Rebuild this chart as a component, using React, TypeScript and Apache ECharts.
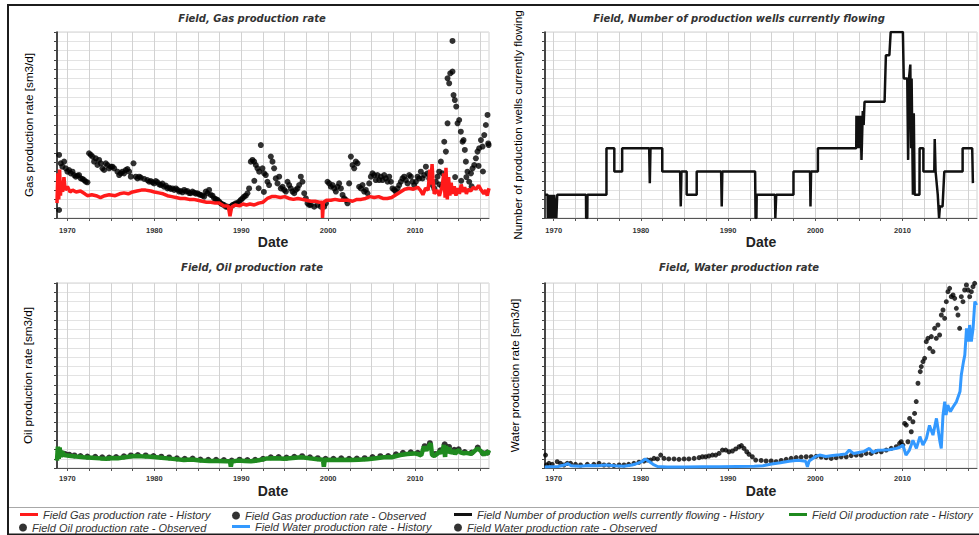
import React, { useEffect, useRef } from 'react';
import * as echarts from 'echarts';

// ---------- axis ticks / labels ----------
const xTickYears = [1970, 1972.5, 1975, 1977.5, 1980, 1982.5, 1985, 1987.5, 1990, 1992.5, 1995, 1997.5, 2000, 2002.5, 2005, 2007.5, 2010, 2012.5, 2015, 2017.5];
const xLabelYears = [1970, 1980, 1990, 2000, 2010];

// ---------- titles / names ----------
const panelTitles = ['Field, Gas production rate', 'Field, Number of production wells currently flowing', 'Field, Oil production rate', 'Field, Water production rate'];
const yNames = ['Gas production rate [sm3/d]', 'Number of production wells currently flowing', 'Oil production rate [sm3/d]', 'Water production rate [sm3/d]'];
const seriesNames = [
  'Field Gas production rate - History',
  'Field Gas production rate - Observed',
  'Field Number of production wells currently flowing - History',
  'Field Oil production rate - History',
  'Field Oil production rate - Observed',
  'Field Water production rate - History',
  'Field Water production rate - Observed',
];

// ---------- data (year, relative value) ----------
const gasHistory = [
  [1968.8, 8], [1968.9, 24], [1969.0, 10], [1969.1, 26], [1969.2, 12], [1969.3, 20], [1969.45, 14], [1969.6, 22], [1969.75, 15], [1970.0, 17], [1970.3, 14], [1970.6, 15], [1971.0, 14], [1971.5, 14.5], [1972.0, 13], [1972.3, 12], [1972.8, 12.5], [1973.3, 12], [1973.8, 11], [1974.3, 12], [1974.8, 12.5], [1975.5, 12], [1976.0, 13], [1976.5, 13.5], [1977.0, 13], [1977.5, 14], [1978.0, 14.5], [1978.5, 15], [1979.0, 15], [1979.6, 14.5], [1980.0, 14], [1980.5, 13.5], [1981.0, 13], [1981.5, 12], [1982.0, 11.5], [1982.5, 11], [1983.0, 10.5], [1983.5, 10.5], [1984.0, 10], [1984.5, 10], [1985.0, 9.5], [1985.5, 9], [1986.0, 8.5], [1986.5, 8.5], [1987.0, 8], [1987.5, 8], [1988.0, 6.5], [1988.5, 6.5], [1988.7, 1], [1988.9, 6], [1989.3, 7], [1989.8, 6.5], [1990.2, 7.5], [1990.6, 7], [1991.0, 7.5], [1991.5, 7], [1992.0, 8], [1992.5, 8.5], [1993.0, 10.5], [1993.5, 11.5], [1994.0, 11.5], [1994.5, 11], [1995.0, 11.5], [1995.5, 10.5], [1996.0, 10], [1996.5, 10.5], [1997.0, 10], [1997.5, 9.5], [1998.0, 9], [1998.5, 9], [1999.0, 8.5], [1999.3, 8.5], [1999.35, 0], [1999.45, 8.5], [1999.8, 9.5], [2000.3, 9.5], [2000.8, 10], [2001.3, 9.5], [2001.8, 9.5], [2002.3, 9.5], [2002.8, 9], [2003.3, 10], [2003.8, 10], [2004.3, 10.5], [2004.8, 11.5], [2005.3, 11], [2005.8, 11.5], [2006.3, 10.5], [2006.8, 10.5], [2007.3, 11], [2007.8, 12.5], [2008.3, 14], [2008.8, 15.5], [2009.3, 16], [2009.8, 15.5], [2010.3, 16.5], [2010.6, 15], [2010.9, 12.5], [2011.2, 16], [2011.5, 15], [2011.7, 26], [2011.8, 18], [2011.95, 29], [2012.05, 21], [2012.2, 13], [2012.5, 15], [2012.8, 12], [2013.1, 17], [2013.3, 24], [2013.45, 11], [2013.55, 27], [2013.7, 10], [2013.85, 22], [2014.0, 12], [2014.15, 19], [2014.3, 13], [2014.5, 17], [2014.7, 12], [2014.9, 16], [2015.1, 13], [2015.3, 18], [2015.5, 14], [2015.7, 16.5], [2015.9, 13], [2016.1, 15.5], [2016.4, 14.5], [2016.7, 16.5], [2017.0, 15.5], [2017.3, 17.5], [2017.6, 15], [2017.9, 13], [2018.1, 15], [2018.3, 12], [2018.5, 16],
];

const gasObserved = [
  [1969.04, 33.9], [1969.04, 4.3], [1969.23, 29.4], [1969.42, 27.6], [1969.62, 30.3], [1969.81, 26.7], [1970.0, 24.9], [1970.19, 25.8], [1970.38, 24.0], [1970.58, 24.9], [1970.77, 23.1], [1970.96, 22.2], [1971.15, 22.8], [1971.34, 23.1], [1971.53, 21.3], [1971.73, 21.0], [1971.92, 20.4], [1972.11, 19.5], [1972.3, 19.2],
  [1972.49, 34.8], [1972.69, 33.9], [1972.88, 33.0], [1973.07, 30.3], [1973.26, 32.1], [1973.45, 28.5], [1973.64, 31.2], [1973.84, 29.4], [1974.03, 26.7], [1974.22, 25.8], [1974.41, 29.4], [1974.6, 28.5], [1974.79, 26.7], [1974.99, 27.6], [1975.18, 27.6], [1975.37, 26.7], [1975.75, 24.9], [1975.95, 23.1], [1976.14, 24.0], [1976.33, 24.9], [1976.52, 24.0], [1976.71, 25.8], [1976.9, 26.3], [1977.1, 24.9], [1977.29, 22.2], [1977.6, 29.4], [1977.86, 22.2], [1978.06, 21.3], [1978.25, 22.2], [1978.44, 21.7], [1978.82, 21.0],
  [1979.2, 20.4], [1979.4, 19.5], [1979.59, 19.9], [1979.78, 19.2], [1979.97, 18.6], [1980.17, 19.9], [1980.36, 19.2], [1980.55, 18.1], [1980.74, 17.7], [1980.93, 18.5], [1981.12, 16.8], [1981.32, 17.4], [1981.51, 15.9], [1981.7, 16.3], [1981.89, 15.6], [1982.08, 15.9], [1982.28, 15.1], [1982.47, 15.9], [1982.66, 15.2], [1982.85, 14.2], [1983.04, 14.5], [1983.23, 13.8], [1983.43, 15.1], [1983.62, 14.2], [1983.81, 14.5], [1984.0, 13.4], [1984.19, 13.3], [1984.38, 14.2], [1984.58, 13.6], [1984.77, 13.1], [1984.96, 13.3], [1985.15, 12.7], [1985.34, 12.4], [1985.54, 12.0], [1985.73, 11.5], [1985.92, 14.2], [1986.11, 13.3], [1986.3, 15.1], [1986.49, 12.4], [1986.69, 12.0], [1986.88, 10.6], [1987.07, 10.2], [1987.26, 9.7], [1987.45, 8.8], [1987.64, 7.9], [1987.84, 7.3], [1988.03, 7.0], [1988.22, 6.1], [1988.41, 6.1], [1988.6, 5.6], [1988.8, 6.1], [1988.99, 7.0], [1989.18, 7.3], [1989.37, 7.9], [1989.56, 7.9], [1989.75, 8.8], [1989.95, 9.7], [1990.14, 10.6], [1990.33, 11.5], [1990.52, 12.0], [1990.71, 13.3], [1990.9, 15.9],
  [1991.1, 30.3], [1991.29, 31.2], [1991.48, 30.3], [1991.5, 20.0], [1991.67, 28.5], [1991.86, 26.7], [1992.0, 16.0], [1992.06, 24.9], [1992.25, 39.2], [1992.44, 26.7], [1992.6, 14.0], [1992.63, 24.0], [1992.82, 23.1], [1993.01, 19.5], [1993.2, 17.7], [1993.4, 33.0], [1993.59, 30.3], [1993.78, 26.7], [1993.97, 21.3], [1994.17, 18.6], [1994.36, 22.2], [1994.55, 15.9], [1994.74, 16.8], [1994.93, 15.1], [1995.13, 14.2], [1995.32, 19.5], [1995.51, 17.7], [1995.7, 15.9], [1995.89, 14.2], [1996.09, 13.3], [1996.28, 15.1], [1996.47, 15.9], [1996.66, 17.7], [1996.85, 22.2], [1997.04, 19.5], [1997.24, 13.3], [1997.43, 10.6], [1997.62, 7.9], [1997.81, 7.0], [1998.0, 7.0], [1998.39, 6.1], [1998.77, 7.0], [1999.15, 6.1], [1999.54, 6.1], [1999.73, 7.9],
  [1999.92, 19.5], [2000.11, 18.6], [2000.3, 16.8], [2000.5, 17.7], [2000.69, 15.9], [2000.88, 14.2], [2001.07, 16.8], [2001.26, 18.6], [2001.46, 15.9], [2001.65, 12.4], [2001.84, 10.6], [2002.03, 9.7], [2002.22, 7.9], [2002.41, 18.6], [2002.61, 33.0], [2002.8, 28.5], [2002.99, 26.7], [2003.18, 30.3], [2003.37, 29.4], [2003.56, 16.8], [2003.76, 15.9], [2003.95, 17.7], [2004.14, 14.2], [2004.33, 15.1], [2004.52, 13.3], [2004.72, 18.6], [2004.91, 22.2], [2005.1, 24.0], [2005.29, 23.1], [2005.48, 20.4], [2005.67, 23.1], [2005.87, 20.4], [2006.06, 22.2], [2006.25, 20.4], [2006.44, 23.1], [2006.63, 21.3], [2006.83, 19.5], [2007.02, 22.2], [2007.21, 19.5], [2007.4, 15.9], [2007.59, 15.1], [2007.78, 14.2], [2007.98, 15.9], [2008.17, 17.7], [2008.36, 19.5], [2008.55, 21.3], [2008.74, 22.2], [2008.94, 20.4], [2009.13, 18.6], [2009.32, 23.1], [2009.51, 22.2], [2009.7, 19.5], [2009.89, 17.7], [2010.09, 19.5], [2010.28, 22.2], [2010.47, 21.3], [2010.66, 24.9], [2010.85, 21.3], [2011.04, 23.1], [2011.24, 27.6], [2011.43, 24.0], [2011.62, 21.3], [2011.81, 19.5], [2012.0, 17.7], [2012.2, 15.9], [2012.39, 19.5], [2012.58, 22.2], [2012.77, 24.9], [2012.8, 18.0], [2012.96, 30.3], [2013.1, 17.0], [2013.15, 24.0], [2013.35, 41.0], [2013.54, 35.7], [2013.73, 50.9], [2013.73, 75.1], [2013.92, 72.4], [2014.04, 77.8], [2014.3, 95.2], [2014.3, 78.7], [2014.42, 66.1], [2014.57, 63.4], [2014.6, 22.0], [2014.73, 59.9], [2014.88, 50.9], [2015.07, 52.7], [2015.26, 46.4], [2015.3, 20.0], [2015.46, 41.0], [2015.57, 41.9], [2015.72, 36.6], [2015.84, 30.3], [2015.9, 22.0], [2016.03, 24.9], [2016.22, 19.5], [2016.42, 24.0], [2016.5, 17.0], [2016.61, 26.7], [2016.8, 28.5], [2016.99, 32.1], [2017.18, 35.7], [2017.3, 28.0], [2017.37, 37.5], [2017.57, 41.9], [2017.76, 38.4], [2017.8, 25.0], [2017.95, 44.6], [2018.14, 50.0], [2018.33, 55.4], [2018.41, 40.1], [2018.46, 39.2],
];

const wellsHistory = [
  [1969.0, 1], [1969.3, 1], [1969.32, 0], [1969.38, 1], [1969.5, 0], [1969.55, 1], [1969.75, 0], [1969.8, 1], [1970.0, 0], [1970.05, 1], [1970.3, 0], [1970.4, 1],
  [1973.7, 1], [1973.72, 0], [1973.85, 0], [1973.87, 1],
  [1976.05, 1], [1976.05, 3], [1976.95, 3], [1976.95, 2], [1977.85, 2], [1977.85, 3],
  [1980.95, 3], [1981.02, 1.5], [1981.1, 3],
  [1982.45, 3], [1982.45, 2],
  [1984.5, 2], [1984.57, 0.5], [1984.65, 2], [1985.25, 2], [1985.25, 1], [1986.4, 1], [1986.4, 2],
  [1989.2, 2], [1989.27, 0.5], [1989.34, 2],
  [1993.1, 2], [1993.15, 0], [1993.25, 0], [1993.28, 1],
  [1995.38, 1], [1995.42, 0], [1995.5, 0], [1995.52, 1],
  [1997.5, 1], [1997.5, 2],
  [1999.4, 2], [1999.45, 0.5], [1999.52, 2],
  [2000.3, 2], [2000.3, 3],
  [2004.7, 3], [2004.72, 4.4], [2004.8, 3], [2004.95, 4.4], [2005.05, 3], [2005.2, 4.4], [2005.3, 2.5], [2005.45, 4.6], [2005.55, 4], [2005.65, 5],
  [2007.95, 5], [2008.1, 7], [2008.5, 7], [2008.65, 8], [2010.05, 8],
  [2010.15, 6], [2010.55, 6], [2010.65, 2.5], [2010.75, 6], [2010.9, 6.6], [2011.0, 3], [2011.05, 6], [2011.2, 1], [2011.3, 4.5], [2011.4, 1], [2011.95, 1], [2011.97, 3],
  [2012.4, 3], [2012.4, 2], [2013.65, 2], [2013.7, 3.4], [2013.8, 2], [2014.05, 1], [2014.2, 0], [2014.3, 0.5], [2014.6, 0.5], [2014.8, 2],
  [2016.9, 2], [2016.9, 3], [2018.0, 3], [2018.08, 1.5],
];

const oilHistory = [
  [1968.8, 4], [1968.9, 11.5], [1969.0, 5], [1969.1, 11], [1969.25, 6], [1969.4, 9], [1969.6, 7], [1970.0, 6.8], [1970.4, 6.5], [1971.0, 6.2], [1971.9, 5.8], [1972.8, 5.6], [1973.8, 5.2], [1974.5, 5.0], [1975.0, 5.4], [1975.8, 5.3], [1976.8, 5.9], [1977.7, 6.5], [1978.5, 6.3], [1979.6, 6.1], [1980.5, 5.7], [1981.5, 5.2], [1982.4, 4.8], [1983.4, 4.3], [1984.3, 4.6], [1985.3, 4.0], [1986.3, 3.8], [1987.3, 3.8], [1988.3, 3.6], [1988.7, 3.6], [1988.8, 0.7], [1988.9, 3.5], [1989.6, 4.0], [1990.4, 3.8], [1991.1, 3.6], [1992.0, 4.2], [1993.0, 5.2], [1994.0, 5.3], [1994.9, 5.0], [1995.9, 5.4], [1996.9, 5.8], [1997.9, 5.2], [1998.8, 4.7], [1999.4, 4.5], [1999.5, 0.7], [1999.6, 4.4], [2000.7, 4.3], [2001.7, 4.5], [2002.6, 4.3], [2003.5, 4.5], [2004.5, 4.7], [2005.5, 5.3], [2006.4, 5.8], [2007.3, 5.8], [2008.3, 7.0], [2009.1, 7.6], [2009.9, 7.9], [2010.4, 7.4], [2010.7, 6.8], [2011.0, 11.5], [2011.3, 9.5], [2011.6, 12], [2011.8, 13.3], [2011.95, 7], [2012.2, 6.5], [2012.6, 7.9], [2012.9, 9], [2013.1, 8], [2013.3, 12.4], [2013.45, 6], [2013.55, 12], [2013.7, 8], [2013.9, 11], [2014.1, 7.9], [2014.4, 9.5], [2014.6, 7.5], [2014.9, 9.7], [2015.2, 8.5], [2015.6, 7.9], [2015.9, 8.2], [2016.4, 7.6], [2016.8, 9], [2017.2, 10.6], [2017.6, 9], [2017.9, 7], [2018.1, 8.5], [2018.3, 7.5], [2018.5, 9.7],
];

const oilObserved = [
  [1969.0, 9], [1969.3, 8], [1969.7, 7.6], [1970.2, 7.2], [1970.8, 6.8], [1971.5, 6.5], [1972.3, 6.2], [1973.2, 6.0], [1974.0, 5.8], [1974.8, 5.6], [1975.6, 5.9], [1976.5, 6.3], [1977.3, 6.8], [1978.1, 7.0], [1979.0, 6.8], [1979.9, 6.5], [1980.8, 6.1], [1981.7, 5.7], [1982.6, 5.2], [1983.5, 5.0], [1984.4, 5.1], [1985.3, 4.6], [1986.2, 4.4], [1987.1, 4.4], [1988.0, 4.3], [1988.9, 4.0], [1989.8, 4.5], [1990.7, 4.3], [1991.6, 4.4], [1992.5, 5.0], [1993.4, 5.8], [1994.3, 5.9], [1995.2, 5.6], [1996.1, 6.0], [1997.0, 6.4], [1997.9, 5.8], [1998.8, 5.3], [1999.7, 5.0], [2000.6, 5.0], [2001.5, 5.2], [2002.4, 5.0], [2003.3, 5.1], [2004.2, 5.3], [2005.1, 5.9], [2006.0, 6.4], [2006.9, 6.5], [2007.8, 7.4], [2008.6, 8.2], [2009.5, 8.5], [2010.3, 8.2], [2011.1, 11.8], [2011.7, 13.4], [2012.3, 7.6], [2012.9, 9.6], [2013.4, 12.8], [2013.9, 11.4], [2014.5, 9.8], [2015.0, 10.1], [2015.7, 8.6], [2016.5, 8.3], [2017.2, 11.0], [2017.8, 8.0], [2018.3, 8.3],
];

const waterHistory = [
  [1968.97, 0.5], [1969.5, 0.7], [1970.5, 0.8], [1971.2, 1.6], [1971.6, 2.4], [1972.0, 1.2], [1973.0, 1.0], [1974.0, 1.3], [1975.0, 1.2], [1976.0, 1.6], [1977.0, 1.2], [1978.0, 1.0], [1979.0, 1.6], [1979.6, 2.5], [1980.1, 3.4], [1980.5, 4.9], [1980.9, 3.6], [1981.4, 2.0], [1981.9, 0.8], [1983.0, 0.6], [1985.0, 0.6], [1987.0, 0.7], [1989.0, 0.7], [1991.0, 0.8], [1993.0, 0.9], [1994.0, 1.2], [1995.0, 2.2], [1996.0, 2.8], [1997.0, 3.6], [1998.0, 4.2], [1998.9, 3.6], [1999.1, 0.6], [1999.3, 3.8], [2000.0, 6.1], [2000.5, 7.0], [2001.2, 6.2], [2002.0, 6.8], [2002.8, 7.2], [2003.5, 7.6], [2003.9, 9.7], [2004.4, 7.8], [2005.0, 8.4], [2005.6, 9.0], [2006.2, 10.6], [2006.6, 8.4], [2007.2, 9.6], [2007.8, 9.7], [2008.5, 9.9], [2009.3, 10.6], [2009.7, 11.2], [2010.05, 12.4], [2010.4, 7.0], [2010.8, 9.7], [2011.2, 15.0], [2011.6, 10.6], [2012.0, 17.0], [2012.35, 12.4], [2012.75, 16.0], [2013.1, 23.0], [2013.5, 17.8], [2013.9, 26.8], [2014.3, 14.2], [2014.45, 10.6], [2014.65, 28.6], [2014.85, 35.9], [2015.0, 28.6], [2015.2, 34.0], [2015.5, 30.5], [2015.8, 33.0], [2016.2, 35.9], [2016.6, 41.3], [2016.75, 50.3], [2017.0, 57.5], [2017.15, 61.0], [2017.35, 75.5], [2017.55, 68.3], [2017.7, 77.3], [2017.9, 68.3], [2018.1, 75.5], [2018.3, 90.0], [2018.5, 88.0],
];

const waterObserved = [
  [1969.06, 7.0], [1969.18, 1.6], [1969.45, 2.5], [1969.83, 2.0], [1970.4, 3.4], [1970.78, 2.5], [1971.17, 1.6], [1971.55, 2.5], [1971.93, 2.5], [1972.5, 2.0], [1973.08, 1.6], [1973.85, 2.0], [1974.6, 2.0], [1975.2, 2.5], [1975.76, 1.6], [1976.33, 1.6], [1976.9, 1.3], [1977.5, 1.6], [1978.06, 1.6], [1978.6, 2.0], [1979.2, 2.5], [1979.78, 3.1], [1980.35, 3.8], [1980.73, 4.3], [1981.1, 4.3], [1981.5, 5.2], [1981.9, 4.9], [1982.27, 7.0], [1982.65, 5.2], [1983.2, 4.9], [1983.8, 4.9], [1984.37, 4.7], [1984.95, 4.9], [1985.5, 4.9], [1986.1, 5.2], [1986.67, 5.6], [1987.05, 6.1], [1987.43, 6.1], [1987.8, 6.5], [1988.2, 7.0], [1988.58, 7.0], [1988.96, 7.9], [1989.35, 9.7], [1989.73, 9.7], [1990.1, 8.8], [1990.5, 9.2], [1990.88, 10.3], [1991.26, 11.5], [1991.53, 12.1], [1991.83, 10.6], [1992.14, 8.8], [1992.4, 7.4], [1992.78, 6.1], [1993.17, 4.3],
  [1993.79, 4.1], [1994.36, 3.8], [1994.94, 3.8], [1995.51, 3.4], [1996.09, 4.1], [1996.66, 4.7], [1997.23, 5.2], [1997.81, 5.6], [1998.38, 5.9], [1998.96, 6.1], [1999.53, 6.1], [2000.1, 6.3], [2000.68, 5.9], [2001.25, 5.6], [2001.83, 5.2], [2002.4, 5.6], [2002.97, 6.1], [2003.55, 6.1], [2004.12, 6.7], [2004.7, 7.0], [2005.27, 7.0], [2005.84, 7.9], [2006.42, 7.9], [2006.99, 8.8], [2007.57, 8.8], [2008.14, 9.7], [2008.71, 10.6], [2009.29, 11.5], [2009.67, 13.3], [2009.86, 14.2], [2010.05, 12.4], [2010.25, 24.1], [2010.44, 23.2], [2010.63, 14.2], [2010.82, 26.8], [2011.01, 19.6], [2011.2, 25.0], [2011.39, 29.5], [2011.58, 35.9], [2011.78, 45.8], [2012.04, 52.1], [2012.16, 54.8], [2012.35, 57.5], [2012.54, 59.3], [2012.73, 68.3], [2012.92, 70.1], [2013.12, 64.7], [2013.31, 71.0], [2013.5, 62.9], [2013.69, 75.5], [2013.88, 70.1], [2014.07, 77.3], [2014.26, 71.9], [2014.46, 82.7], [2014.65, 85.4], [2014.84, 80.9], [2015.03, 89.9], [2015.22, 95.3], [2015.41, 97.1], [2015.6, 92.6], [2015.8, 93.5], [2015.99, 91.7], [2016.18, 86.3], [2016.37, 82.7], [2016.56, 75.5], [2016.75, 92.6], [2016.94, 89.9], [2017.13, 96.2], [2017.33, 98.9], [2017.52, 96.2], [2017.71, 92.6], [2017.9, 95.3], [2018.09, 98.0], [2018.28, 99.8],
];

const FONT = "'Liberation Sans', Arial, Helvetica, sans-serif";
const WIDE = "'DejaVu Sans', Verdana, sans-serif";

function makeX(gridIndex: number, min: number, max: number, nameGap: number, margin: number) {
  return {
    type: 'value',
    gridIndex,
    min,
    max,
    name: 'Date',
    nameLocation: 'middle',
    nameGap,
    nameTextStyle: { fontSize: 14, fontWeight: 'bold', color: '#222', fontFamily: FONT },
    axisLine: { show: true, onZero: false, lineStyle: { color: '#555', width: 1 } },
    axisTick: { show: true, customValues: xTickYears, length: 3, lineStyle: { color: '#555' } },
    axisLabel: {
      show: true,
      customValues: xLabelYears,
      formatter: (v: number) => String(Math.round(v)),
      fontSize: 7.5,
      fontWeight: 'bold',
      color: '#333',
      margin,
      fontFamily: FONT,
    },
    splitLine: { show: true, lineStyle: { color: '#d2d2d2', width: 1 } },
  };
}

function makeY(gridIndex: number, max: number, interval: number, name: string, nameGap: number) {
  return {
    type: 'value',
    gridIndex,
    min: 0,
    max,
    interval,
    name,
    nameLocation: 'middle',
    nameGap,
    nameRotate: 90,
    nameTextStyle: { fontSize: 11.7, color: '#000', fontFamily: FONT },
    axisLine: { show: true, onZero: false, lineStyle: { color: '#111', width: 1.5 } },
    axisTick: { show: true, length: 3, lineStyle: { color: '#444' } },
    axisLabel: { show: false },
    splitLine: { show: true, lineStyle: { color: '#e3e3e3', width: 1 } },
  };
}

const legendText = { fontSize: 11, fontStyle: 'italic', color: '#333', fontFamily: FONT };

function lineLegend(name: string, left: number, top: number) {
  return {
    data: [{ name, icon: 'rect' }],
    left, top, padding: 0, itemWidth: 18, itemHeight: 3, itemGap: 0,
    selectedMode: false, textStyle: legendText,
  };
}
function dotLegend(name: string, left: number, top: number) {
  return {
    data: [{ name, icon: 'circle' }],
    left, top, padding: 0, itemWidth: 8, itemHeight: 8, itemGap: 0,
    selectedMode: false, textStyle: legendText,
  };
}

const gridBase = { show: true, borderColor: '#d2d2d2', borderWidth: 1, backgroundColor: 'transparent', containLabel: false, outerBoundsMode: 'none' };

export default function App() {
  const ref = useRef<HTMLDivElement>(null);

  useEffect(() => {
    if (!ref.current) return;
    const chart = echarts.init(ref.current, null, { renderer: 'svg' });
    const titleStyle = { fontSize: 10, fontStyle: 'italic', fontWeight: 'bold', color: '#333', fontFamily: WIDE };
    const option: any = {
      animation: false,
      backgroundColor: '#ffffff',
      title: [
        { text: panelTitles[0], left: 252, top: 13, textAlign: 'center', padding: 0, textStyle: titleStyle },
        { text: panelTitles[1], left: 739, top: 13, textAlign: 'center', padding: 0, textStyle: titleStyle },
        { text: panelTitles[2], left: 252, top: 262, textAlign: 'center', padding: 0, textStyle: titleStyle },
        { text: panelTitles[3], left: 739, top: 262, textAlign: 'center', padding: 0, textStyle: titleStyle },
      ],
      grid: [
        { ...gridBase, left: 57, top: 32, width: 432, height: 186 },
        { ...gridBase, left: 545, top: 32, width: 432, height: 186 },
        { ...gridBase, left: 57, top: 283, width: 432, height: 185 },
        { ...gridBase, left: 545, top: 283, width: 432, height: 185 },
      ],
      xAxis: [
        makeX(0, 1968.8, 2018.5, 17, 8),
        makeX(1, 1969.0, 2018.55, 17, 8),
        makeX(2, 1968.8, 2018.5, 16, 6),
        makeX(3, 1969.0, 2018.55, 16, 6),
      ],
      yAxis: [
        makeY(0, 100, 5, yNames[0], 23),
        makeY(1, 8, 0.4, yNames[1], 22),
        makeY(2, 100, 5, yNames[2], 24),
        makeY(3, 100, 5, yNames[3], 25),
      ],
      legend: [
        lineLegend(seriesNames[0], 20, 509),
        dotLegend(seriesNames[1], 232, 510),
        lineLegend(seriesNames[2], 454, 509),
        lineLegend(seriesNames[3], 789, 509),
        dotLegend(seriesNames[4], 19, 522),
        lineLegend(seriesNames[5], 232, 521),
        dotLegend(seriesNames[6], 454, 522),
      ],
      graphic: [
        { type: 'rect', silent: true, shape: { x: 8, y: 5, width: 990, height: 529.5 }, style: { fill: 'none', stroke: '#1c1c1c', lineWidth: 2 } },
        { type: 'line', silent: true, shape: { x1: 9, y1: 507.5, x2: 979, y2: 507.5 }, style: { stroke: '#a8a8a8', lineWidth: 1 } },
      ],
      series: [
        {
          name: seriesNames[1], type: 'scatter', xAxisIndex: 0, yAxisIndex: 0,
          data: gasObserved, symbol: 'circle', symbolSize: 6, itemStyle: { color: '#000' },
        },
        {
          name: seriesNames[0], type: 'line', xAxisIndex: 0, yAxisIndex: 0,
          data: gasHistory, symbol: 'none', showSymbol: false, itemStyle: { color: '#ff1a1a' },
          lineStyle: { color: '#ff1a1a', width: 3.5 },
        },
        {
          name: seriesNames[2], type: 'line', xAxisIndex: 1, yAxisIndex: 1,
          data: wellsHistory, symbol: 'none', showSymbol: false, itemStyle: { color: '#111' },
          lineStyle: { color: '#111', width: 2.5 },
        },
        {
          name: seriesNames[4], type: 'scatter', xAxisIndex: 2, yAxisIndex: 2,
          data: oilObserved, symbol: 'circle', symbolSize: 6, itemStyle: { color: '#000' },
        },
        {
          name: seriesNames[3], type: 'line', xAxisIndex: 2, yAxisIndex: 2,
          data: oilHistory, symbol: 'none', showSymbol: false, itemStyle: { color: '#1f8a1f' },
          lineStyle: { color: '#1f8a1f', width: 4.5 },
        },
        {
          name: seriesNames[6], type: 'scatter', xAxisIndex: 3, yAxisIndex: 3,
          data: waterObserved, symbol: 'circle', symbolSize: 5, itemStyle: { color: '#000' },
        },
        {
          name: seriesNames[5], type: 'line', xAxisIndex: 3, yAxisIndex: 3,
          data: waterHistory, symbol: 'none', showSymbol: false, itemStyle: { color: '#3399ff' },
          lineStyle: { color: '#3399ff', width: 3 },
        },
      ],
    };
    chart.setOption(option);
    return () => chart.dispose();
  }, []);

  return (
    <div
      ref={ref}
      style={{ position: 'fixed', left: 0, top: 0, width: 979, height: 535, background: '#fff' }}
    />
  );
}
